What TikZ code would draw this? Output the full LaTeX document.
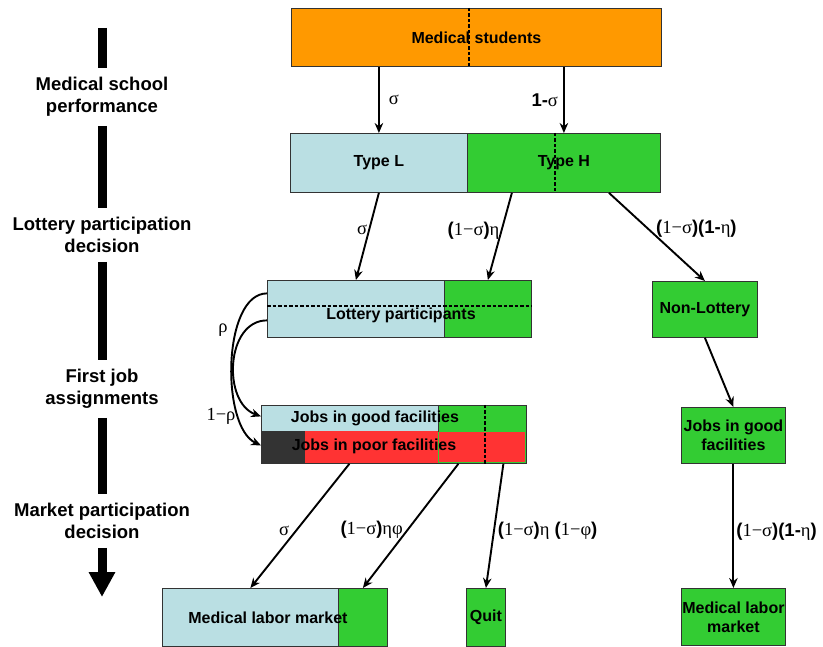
\documentclass[tikz,border=0pt]{standalone}
\usepackage{fontspec}
\setmainfont{Liberation Sans}
\newfontfamily\grk{Liberation Serif}
\usepackage{tikz}
\usetikzlibrary{arrows.meta,positioning}
\usepackage{xcolor}

\definecolor{orng}{HTML}{FF9900}
\definecolor{lblue}{HTML}{BADFE3}
\definecolor{hgreen}{HTML}{33CC33}
\definecolor{pred}{HTML}{FF3333}
\definecolor{dgray}{HTML}{333333}
\newcommand{\gk}[1]{{\grk\mdseries #1}}

\tikzset{
	cell/.style={draw=black!80,line width=0.8pt,inner sep=0pt,anchor=north west,
		font=\fontsize{16}{19}\selectfont\bfseries,align=center},
	boxtxt/.style={inner sep=0pt,font=\fontsize{16}{19}\selectfont\bfseries},
	lab/.style={font=\fontsize{18.5}{22}\selectfont\bfseries,inner sep=2pt},
	stage/.style={font=\fontsize{18.5}{22}\selectfont\bfseries,align=center,inner xsep=0pt,inner ysep=9pt},
	flow/.style={-{Stealth[length=10pt,width=8.5pt]},line width=1.9pt},
	bar/.style={line width=9pt},
	cut/.style={dash pattern=on 3.5pt off 2pt,line width=1.3pt}
}

\begin{document}
\begin{tikzpicture}[x=1pt,y=-1pt]
	\useasboundingbox (0,0) rectangle (823,647);

	% stages
	\begin{scope}[every node/.style={stage}]
		\node (perf) at (102,97) {Medical school\\performance};
		\node (lotdec) at (102,235) {Lottery participation\\decision};
		\node (assign) at (102,389) {First job\\assignments};
		\node (mktdec) at (102,521) {Market participation\\decision};
	\end{scope}
	\coordinate (tltop) at (102,28);
	\coordinate (tlbot) at (102,597);
	\draw[bar] (tltop) -- (perf);
	\draw[bar] (perf) -- (lotdec);
	\draw[bar] (lotdec) -- (assign);
	\draw[bar] (assign) -- (mktdec);
	\draw[bar,-{Triangle[width=25pt,length=25pt]}] (mktdec) -- (tlbot);

	% boxes
	\begin{scope}[every node/.style={cell}]
		\node[fill=orng,minimum width=370pt,minimum height=58pt] (stud) at (291,8) {Medical students};
		\node[fill=lblue,minimum width=177pt,minimum height=59pt] (typeL) at (290,133) {Type L};
		\node[fill=hgreen,minimum width=193pt,minimum height=59pt] (typeH) at (467,133) {Type H};
		\node[fill=lblue,minimum width=177pt,minimum height=57pt] (lotL) at (267,280) {};
		\node[fill=hgreen,minimum width=87pt,minimum height=57pt] (lotH) at (444,280) {};
		\node[fill=hgreen,minimum width=105pt,minimum height=56pt] (nonlot) at (652,281) {Non-Lottery};
		\node[fill=lblue,draw=none,minimum width=177pt,minimum height=26pt] (goodL) at (261,405) {};
		\node[fill=hgreen,draw=none,minimum width=88pt,minimum height=26pt] (goodH) at (438,405) {};
		\node[fill=dgray,draw=none,minimum width=44pt,minimum height=32pt] (poorD) at (261,431) {};
		\node[fill=pred,draw=none,minimum width=221pt,minimum height=32pt] (poorR) at (305,431) {};
		\node[draw=hgreen,line width=0.5pt,minimum width=87pt,minimum height=31pt] (poorH) at (438,431) {};
		\node[minimum width=265pt,minimum height=58pt] (jobs) at (261,405) {};
		\node[fill=hgreen,minimum width=104pt,minimum height=56pt] (goodR) at (681,407) {Jobs in good\\facilities};
		\node[fill=lblue,minimum width=176pt,minimum height=58pt] (mlmL) at (162,588) {};
		\node[fill=hgreen,minimum width=49pt,minimum height=58pt] (mlmH) at (338,588) {};
		\node[fill=hgreen,minimum width=39pt,minimum height=58pt] (quit) at (466,588) {Quit};
		\node[fill=hgreen,minimum width=104pt,minimum height=57pt] (mlmR) at (681,588) {Medical labor\\market};
	\end{scope}
	\draw[black!80,line width=0.8pt] (goodL.north east) -- (goodL.south east);

	% texts over split boxes
	\node[boxtxt] (lottxt) at (401,315) {Lottery participants};
	\node[boxtxt] (goodtxt) at (375,418) {Jobs in good facilities};
	\node[boxtxt] (poortxt) at (374,446) {Jobs in poor facilities};
	\node[boxtxt] (mlmtxt) at (268,618) {Medical labor market};

	% dashed cuts
	\draw[cut] ([xshift=178pt]stud.north west) -- ([xshift=178pt]stud.south west);
	\draw[cut] ([xshift=88pt]typeH.north west) -- ([xshift=88pt]typeH.south west);
	\draw[cut] ([yshift=-26pt]lotL.north west) -- ([yshift=-26pt]lotH.north east);
	\draw[cut] ([xshift=224pt]jobs.north west) -- ([xshift=224pt]jobs.south west);

	% flows
	\begin{scope}[every node/.style={lab}]
		\draw[flow] (stud.south -| typeL.north) -- node[right=7pt] {\gk{σ}} (typeL.north);
		\draw[flow] (stud.south -| typeH.north) -- node[left=3pt] {1-\gk{σ}} (typeH.north);
		\draw[flow] (typeL.south) -- node[pos=0.43,left=-1pt] {\gk{σ}} (lotL.north);
		\draw[flow] ([xshift=-52pt]typeH.south) -- node[pos=0.44,left=-1pt] {(\gk{1−σ})\gk{η}} (lotH.north);
		\draw[flow] ([xshift=45pt]typeH.south) -- node[pos=0.41,right=5pt] {(\gk{1−σ})(1-\gk{η})} (nonlot.north);
		\draw[flow] (nonlot.south) -- (goodR.north);
		\draw[flow] (goodR.south) -- node[pos=0.55,right=0pt] {(\gk{1−σ})(1-\gk{η})} (mlmR.north);
		\draw[flow] ([xshift=-44.5pt]jobs.south) -- node[pos=0.54,left=4pt] {\gk{σ}} (mlmL.north);
		\draw[flow] ([xshift=64.5pt]jobs.south) -- node[pos=0.53,left=2pt] {(\gk{1−σ})\gk{ηφ}} (mlmH.north);
		\draw[flow] ([xshift=109.5pt]jobs.south) -- node[pos=0.54,right=1pt] {(\gk{1−σ})\gk{η} (\gk{1−φ})} (quit.north);

		\draw[flow] ([yshift=15.5pt]lotL.west) to[out=180,in=155,looseness=0.75] ([yshift=-11pt]jobs.west);
		\draw[flow] ([yshift=-11.5pt]lotL.west) to[out=180,in=160,looseness=1.1] ([yshift=18pt]jobs.west);
		\node (rho) at (223,330) {\gk{ρ}};
		\node (nrho) at (221,416) {\gk{1−ρ}};
	\end{scope}
\end{tikzpicture}
\end{document}
